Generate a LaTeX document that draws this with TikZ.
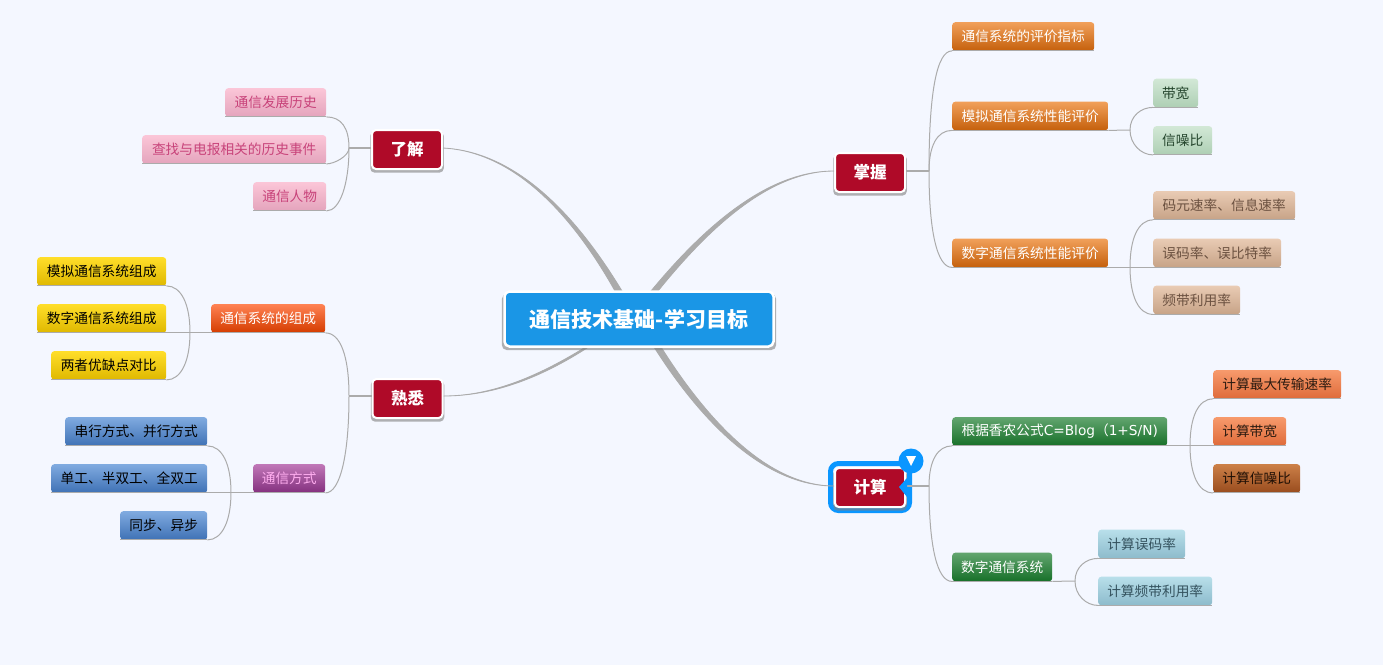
\documentclass[tikz,border=0pt]{standalone}
\usepackage{fontspec}
\setmainfont{Noto Sans CJK SC}
\newfontfamily\latinpart{DejaVu Sans}
\usepackage{xcolor}
\usepackage{tikz}
\definecolor{mapBack}{HTML}{F4F7FF}
\definecolor{mapLine}{HTML}{ABABAB}
\definecolor{mapRed}{HTML}{AF0A28}
\definecolor{mapBlue}{HTML}{1A96E6}
\definecolor{mapMark}{HTML}{0A96FF}
\definecolor{orangeTop}{HTML}{F1A05A}
\definecolor{orangeEnd}{HTML}{C5600C}
\definecolor{greenTop}{HTML}{62A56F}
\definecolor{greenEnd}{HTML}{177029}
\definecolor{flameTop}{HTML}{FF8253}
\definecolor{flameEnd}{HTML}{D43C00}
\definecolor{purpleTop}{HTML}{C077B8}
\definecolor{purpleEnd}{HTML}{84307F}
\definecolor{purpleText}{HTML}{FFAEEF}
\definecolor{yellowTop}{HTML}{FFDE2A}
\definecolor{yellowEnd}{HTML}{DFB800}
\definecolor{steelTop}{HTML}{80ABE0}
\definecolor{steelEnd}{HTML}{3F72B5}
\definecolor{pinkTop}{HTML}{FBC6D8}
\definecolor{pinkEnd}{HTML}{E4A4BC}
\definecolor{pinkText}{HTML}{C8437A}
\definecolor{mintTop}{HTML}{D2E8D6}
\definecolor{mintEnd}{HTML}{AECFB4}
\definecolor{mintText}{HTML}{24452C}
\definecolor{tanTop}{HTML}{E9CBB4}
\definecolor{tanEnd}{HTML}{C7A387}
\definecolor{tanText}{HTML}{6B5140}
\definecolor{salmonTop}{HTML}{F79A6C}
\definecolor{salmonEnd}{HTML}{DF6B3A}
\definecolor{salmonText}{HTML}{2A1A10}
\definecolor{brownTop}{HTML}{CC8048}
\definecolor{brownEnd}{HTML}{994C1E}
\definecolor{brownText}{HTML}{1E0F05}
\definecolor{iceTop}{HTML}{B8DFEA}
\definecolor{iceEnd}{HTML}{8DBBCC}
\definecolor{iceText}{HTML}{34525E}
\usetikzlibrary{shadows}

\begin{document}
\begin{tikzpicture}[
  x=1pt, y=-1pt,
  rootbox/.style={draw=white, line width=2.5pt, rounded corners=5pt, fill=mapBlue, text=white, font=\fontsize{21}{24}\selectfont\bfseries, minimum width=269pt, minimum height=55pt, inner sep=0pt, drop shadow={opacity=.6, shadow scale=1.02, shadow xshift=0pt, shadow yshift=-3pt}},
  topicbox/.style={draw=white, line width=2pt, rounded corners=4pt, fill=mapRed, text=white, font=\fontsize{16.5}{20}\selectfont\bfseries, minimum width=70pt, minimum height=39pt, inner sep=0pt, drop shadow={opacity=.6, shadow scale=1.05, shadow xshift=0pt, shadow yshift=-2.5pt}},
  leafbox/.style={anchor=north west, rounded corners=3pt, font=\fontsize{13.7}{16}\selectfont, minimum height=28.5pt, inner sep=0pt},
  orangebox/.style={leafbox, top color=orangeTop, bottom color=orangeEnd, text=white},
  greenbox/.style={leafbox, top color=greenTop, bottom color=greenEnd, text=white},
  flamebox/.style={leafbox, top color=flameTop, bottom color=flameEnd, text=white},
  purplebox/.style={leafbox, top color=purpleTop, bottom color=purpleEnd, text=purpleText},
  yellowbox/.style={leafbox, top color=yellowTop, bottom color=yellowEnd, text=black},
  bluebox/.style={leafbox, top color=steelTop, bottom color=steelEnd, text=black},
  pinkbox/.style={leafbox, top color=pinkTop, bottom color=pinkEnd, text=pinkText},
  mintbox/.style={leafbox, top color=mintTop, bottom color=mintEnd, text=mintText},
  tanbox/.style={leafbox, top color=tanTop, bottom color=tanEnd, text=tanText},
  salmonbox/.style={leafbox, top color=salmonTop, bottom color=salmonEnd, text=salmonText},
  brownbox/.style={leafbox, top color=brownTop, bottom color=brownEnd, text=brownText},
  icebox/.style={leafbox, top color=iceTop, bottom color=iceEnd, text=iceText},
  branch/.style={draw=mapLine, line width=1pt},
  stem/.style={draw=mapLine, line width=1.6pt},
  trunk/.style={fill=mapLine, draw=mapLine, line width=.8pt}
]

% Background
\fill[mapBack] (0,0) rectangle (1383,665);
\useasboundingbox (0,0) rectangle (1383,665);

% Hubs
\coordinate (hubLiaojie) at (349,148);
\coordinate (hubShuxi) at (349,396);
\coordinate (hubParts) at (190,332.5);
\coordinate (hubModes) at (231,492.5);
\coordinate (hubZhangwo) at (929,171);
\coordinate (hubAnalog) at (1130,130);
\coordinate (hubDigital) at (1130,267);
\coordinate (hubJisuan) at (929,486);
\coordinate (hubShannon) at (1190,445.5);
\coordinate (hubSys) at (1075,581);

% Topic nodes are placed first, the centre comes after its trunks
\node[topicbox] (liaojie) at (407,149.5) {了解};
\node[topicbox] (zhangwo) at (870,172.5) {掌握};
\node[topicbox] (shuxi) at (407.5,398.5) {熟悉};

% Selection frame of the last topic
\draw[mapMark, line width=5pt, rounded corners=8pt] (830.5,463.5) rectangle (909.5,510.5);
\node[topicbox] (jisuan) at (870,487.5) {计算};

% Trunks
\coordinate (rootLa) at (615,291);
\coordinate (rootLb) at (622,291);
\coordinate (rootRa) at (651,291);
\coordinate (rootRb) at (658,291);
\coordinate (rootSa) at (584,348);
\coordinate (rootSb) at (590,346);
\coordinate (rootJa) at (654,347);
\coordinate (rootJb) at (661,347);
\fill[trunk] (liaojie.east |- hubLiaojie) .. controls (520,152) and (578,225) .. (rootLa) -- (rootLb) .. controls (582,225) and (522,152) .. (liaojie.east |- hubLiaojie);
\fill[trunk] (zhangwo.west |- hubZhangwo) .. controls (770,171) and (708,222) .. (rootRa) -- (rootRb) .. controls (712,224) and (772,171) .. (zhangwo.west |- hubZhangwo);
\fill[trunk] (shuxi.east |- hubShuxi) .. controls (490,396) and (535,378) .. (rootSa) -- (rootSb) .. controls (538,380) and (490,396) .. (shuxi.east |- hubShuxi);
\fill[trunk] (jisuan.west |- hubJisuan) .. controls (770,486) and (708,432) .. (rootJa) -- (rootJb) .. controls (712,428) and (772,486) .. (jisuan.west |- hubJisuan);

% Centre
\node[rootbox] (root) at (639,319) {通信技术基础-学习目标};

% Leaves on the upper left
\node[pinkbox, minimum width=101pt] (history) at (225,88) {通信发展历史};
\node[pinkbox, minimum width=184pt] (events) at (142,135) {查找与电报相关的历史事件};
\node[pinkbox, minimum width=73pt] (people) at (253,182) {通信人物};

% Leaves on the lower left
\node[flamebox, minimum width=114pt] (parts) at (211,304) {通信系统的组成};
\node[purplebox, minimum width=72pt] (modes) at (253,464) {通信方式};
\node[yellowbox, minimum width=129pt] (analogparts) at (37,257) {模拟通信系统组成};
\node[yellowbox, minimum width=129pt] (digitalparts) at (37,304) {数字通信系统组成};
\node[yellowbox, minimum width=115pt] (compare) at (51,351) {两者优缺点对比};
\node[bluebox, minimum width=142pt] (serial) at (65,417) {串行方式、并行方式};
\node[bluebox, minimum width=156pt] (duplex) at (51,464) {单工、半双工、全双工};
\node[bluebox, minimum width=87pt] (sync) at (120,511) {同步、异步};

% Leaves on the upper right
\node[orangebox, minimum width=142pt] (metrics) at (952,22) {通信系统的评价指标};
\node[orangebox, minimum width=156pt] (analog) at (952,101.5) {模拟通信系统性能评价};
\node[orangebox, minimum width=156pt] (digital) at (952,238.5) {数字通信系统性能评价};
\node[mintbox, minimum width=45pt] (band) at (1153,78.5) {带宽};
\node[mintbox, minimum width=59pt] (snr) at (1153,126) {信噪比};
\node[tanbox, minimum width=142pt] (rate) at (1153,191) {码元速率、信息速率};
\node[tanbox, minimum width=128pt] (errors) at (1153,238.5) {误码率、误比特率};
\node[tanbox, minimum width=87pt] (usage) at (1153,285.5) {频带利用率};

% Leaves on the lower right
\node[greenbox, minimum width=215pt] (shannon) at (952,417) {根据香农公式{\latinpart C=Blog}（{\latinpart 1+S/N)}};
\node[greenbox, minimum width=100pt] (digitalsys) at (952,552.5) {数字通信系统};
\node[salmonbox, minimum width=128pt] (maxrate) at (1213,370) {计算最大传输速率};
\node[salmonbox, minimum width=73pt] (calcband) at (1213,417) {计算带宽};
\node[brownbox, minimum width=87pt] (calcsnr) at (1213,464) {计算信噪比};
\node[icebox, minimum width=87pt] (calcerr) at (1098,529.5) {计算误码率};
\node[icebox, minimum width=114pt] (calcuse) at (1098,576.5) {计算频带利用率};

% Underlines
\foreach \n in {history,events,people,parts,modes,analogparts,digitalparts,compare,serial,duplex,sync,metrics,analog,digital,band,snr,rate,errors,usage,shannon,digitalsys,maxrate,calcband,calcsnr,calcerr,calcuse}
  \draw[branch] (\n.south west) -- (\n.south east);

% Upper left
\draw[stem] (liaojie.west |- hubLiaojie) -- (hubLiaojie);
\draw[branch] (hubLiaojie) .. controls +(0,-20) and +(15,0) .. (history.south east);
\draw[branch] (hubLiaojie) .. controls +(0,8) and +(8,0) .. (events.south east);
\draw[branch] (hubLiaojie) .. controls +(0,35) and +(14,0) .. (people.south east);

% Lower left
\draw[stem] (shuxi.west |- hubShuxi) -- (hubShuxi);
\draw[branch] (hubShuxi) .. controls +(0,-40) and +(15,0) .. (parts.south east);
\draw[branch] (hubShuxi) .. controls +(0,58) and +(15,0) .. (modes.south east);
\draw[branch] (parts.south west) -- (digitalparts.south east);
\draw[branch] (hubParts) .. controls +(0,-28) and +(15,0) .. (analogparts.south east);
\draw[branch] (hubParts) .. controls +(0,28) and +(15,0) .. (compare.south east);
\draw[branch] (modes.south west) -- (duplex.south east);
\draw[branch] (hubModes) .. controls +(0,-28) and +(15,0) .. (serial.south east);
\draw[branch] (hubModes) .. controls +(0,28) and +(15,0) .. (sync.south east);

% Upper right
\draw[stem] (zhangwo.east |- hubZhangwo) -- (hubZhangwo);
\draw[branch] (hubZhangwo) .. controls +(0,-80) and +(-15,0) .. (metrics.south west);
\draw[branch] (hubZhangwo) .. controls +(0,-25) and +(-15,0) .. (analog.south west);
\draw[branch] (hubZhangwo) .. controls +(0,60) and +(-15,0) .. (digital.south west);
\draw[branch] (analog.south east) -- (hubAnalog);
\draw[branch] (hubAnalog) .. controls +(0,-14) and +(-12,0) .. (band.south west);
\draw[branch] (hubAnalog) .. controls +(0,14) and +(-12,0) .. (snr.south west);
\draw[branch] (digital.south east) -- (errors.south west);
\draw[branch] (hubDigital) .. controls +(0,-28) and +(-15,0) .. (rate.south west);
\draw[branch] (hubDigital) .. controls +(0,28) and +(-15,0) .. (usage.south west);

% Lower right
\draw[stem] (jisuan.east |- hubJisuan) -- (hubJisuan);
\draw[branch] (hubJisuan) .. controls +(0,-26) and +(-14,0) .. (shannon.south west);
\draw[branch] (hubJisuan) .. controls +(0,60) and +(-15,0) .. (digitalsys.south west);
\draw[branch] (shannon.south east) -- (calcband.south west);
\draw[branch] (hubShannon) .. controls +(0,-28) and +(-15,0) .. (maxrate.south west);
\draw[branch] (hubShannon) .. controls +(0,28) and +(-15,0) .. (calcsnr.south west);
\draw[branch] (digitalsys.south east) -- (hubSys);
\draw[branch] (hubSys) .. controls +(0,-14) and +(-12,0) .. (calcerr.south west);
\draw[branch] (hubSys) .. controls +(0,14) and +(-12,0) .. (calcuse.south west);

% Selection marks
\fill[mapMark] (899,487) -- (907,478) -- (907,497) -- cycle;
\node[circle, fill=mapMark, minimum size=25pt, inner sep=0pt] (collapse) at (911,461) {};
\fill[white] (906,456) -- (916,456) -- (911,466) -- cycle;
\end{tikzpicture}
\end{document}
